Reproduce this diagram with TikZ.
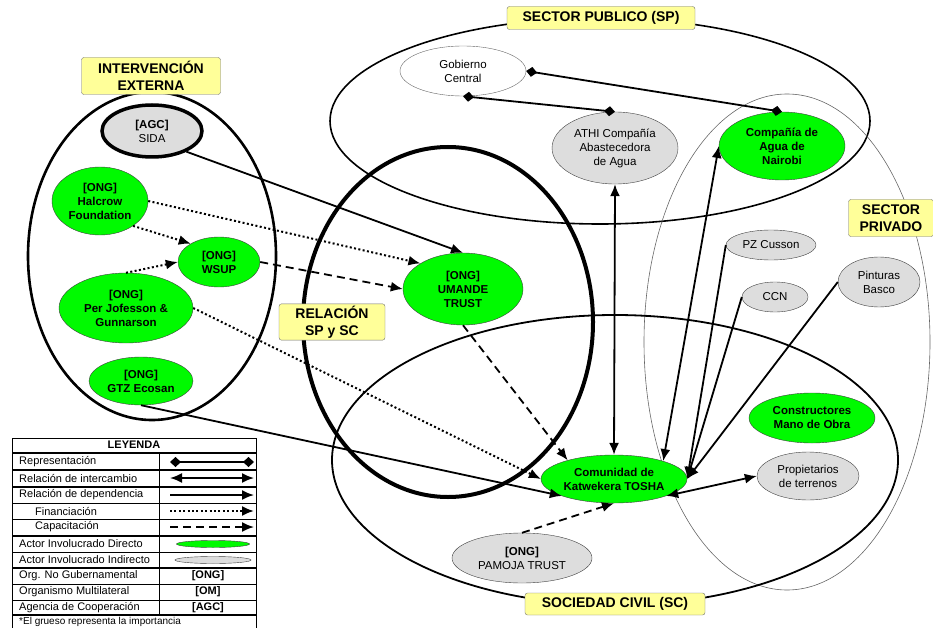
\documentclass[tikz,border=0pt]{standalone}
\usepackage{fontspec}
\setmainfont{Liberation Sans}
\usepackage{tikz}
\usetikzlibrary{arrows.meta,shapes.geometric}

\definecolor{verde}{RGB}{0,250,0}
\definecolor{gris}{RGB}{221,221,221}
\definecolor{amarillo}{RGB}{255,255,153}
\newcommand{\fnodo}{\fontsize{11.5}{14}\selectfont}
\newcommand{\fetiq}{\fontsize{14}{17}\selectfont\bfseries}
\newcommand{\fley}{\fontsize{11}{12}\selectfont}

\begin{document}
\begin{tikzpicture}[x=1pt,y=-1pt,
  punta/.tip={Latex[length=12pt,width=10pt]},
  rombo/.tip={Diamond[length=11pt,width=10pt]},
  directo/.style={ellipse,draw=black!75,fill=verde,inner sep=0pt,align=center,font=\fnodo\bfseries},
  indirecto/.style={ellipse,draw=black!75,fill=gris,inner sep=0pt,align=center,font=\fnodo},
  etiqueta/.style={draw=black!55,fill=amarillo,rounded corners=2.5pt,align=center,font=\fetiq,inner sep=2pt},
  rel/.style={line width=1.8pt},
  repr/.style={rel,rombo-rombo},
  inter/.style={rel,punta-punta},
  dep/.style={rel,-punta},
  fin/.style={rel,-punta,line width=2pt,dash pattern=on 2pt off 2.4pt},
  capac/.style={rel,-punta,dash pattern=on 8pt off 5pt},
  txley/.style={anchor=west,font=\fley,inner sep=0pt}]
\useasboundingbox (0,0) rectangle (933,628);

% grupos
\draw[line width=1.6pt] (600,121) ellipse [x radius=270pt, y radius=103pt];
\draw[line width=0.6pt,black!60] (787,342) ellipse [x radius=143pt, y radius=248pt];
\draw[line width=1.8pt] (615,460) ellipse [x radius=283pt, y radius=145pt];
\draw[line width=2.6pt] (152,256) ellipse [x radius=124pt, y radius=164pt];
\draw[line width=4pt] (448,322) ellipse [x radius=145pt, y radius=175pt];

% actores
\node[indirecto,minimum width=100,minimum height=52,line width=3.5pt,draw=black] (sida) at (152,131) {\textbf{[AGC]}\\SIDA};
\node[directo,minimum width=96,minimum height=68] (halcrow) at (100,201) {[ONG]\\Halcrow\\Foundation};
\node[directo,minimum width=82,minimum height=50] (wsup) at (219,262) {[ONG]\\WSUP};
\node[directo,minimum width=134,minimum height=70] (per) at (126,308) {[ONG]\\Per Jofesson \&\\Gunnarson};
\node[directo,minimum width=104,minimum height=48] (gtz) at (141,381) {[ONG]\\GTZ Ecosan};
\node[directo,minimum width=120,minimum height=72] (umande) at (463,289) {[ONG]\\UMANDE\\TRUST};
\node[indirecto,fill=white,draw=black!60,minimum width=126,minimum height=50] (gobierno) at (463,71) {Gobierno\\Central};
\node[indirecto,minimum width=126,minimum height=72] (athi) at (615,148) {ATHI Compañía\\Abastecedora\\de Agua};
\node[directo,minimum width=126,minimum height=68] (nairobi) at (782,146) {Compañía de\\Agua de\\Nairobi};
\node[indirecto,minimum width=90,minimum height=30] (pz) at (771,245) {PZ Cusson};
\node[indirecto,minimum width=66,minimum height=30] (ccn) at (775,297) {CCN};
\node[indirecto,minimum width=82,minimum height=50] (basco) at (879,282) {Pinturas\\Basco};
\node[directo,minimum width=126,minimum height=50] (constructores) at (812,418) {Constructores\\Mano de Obra};
\node[indirecto,minimum width=102,minimum height=48] (propietarios) at (808,476) {Propietarios\\de terrenos};
\node[directo,minimum width=146,minimum height=48] (tosha) at (614,479) {Comunidad de\\Katwekera TOSHA};
\node[indirecto,minimum width=140,minimum height=50] (pamoja) at (522,558) {\textbf{[ONG]}\\PAMOJA TRUST};

% etiquetas
\node[etiqueta,minimum width=188,minimum height=23] (lsp) at (601,18) {SECTOR PUBLICO (SP)};
\node[etiqueta,minimum width=139,minimum height=37] (lie) at (151,76) {INTERVENCIÓN\\EXTERNA};
\node[etiqueta,minimum width=106,minimum height=36] (lrel) at (332,322) {RELACIÓN\\SP y SC};
\node[etiqueta,minimum width=85,minimum height=37] (lpriv) at (891,218) {SECTOR\\PRIVADO};
\node[etiqueta,minimum width=180,minimum height=22] (lsc) at (615,604) {SOCIEDAD CIVIL (SC)};

% relaciones
\draw[repr] (gobierno.south) -- (athi.north);
\draw[repr] (gobierno.east) -- (nairobi.north);
\draw[inter] (athi.south) -- (tosha.north);
\draw[inter] (nairobi.west) -- (tosha.20);
\draw[dep] (pz.west) -- (tosha.east);
\draw[dep] (ccn.west) -- (tosha.east);
\draw[dep] (basco.west) -- (tosha.east);
\draw[inter] (tosha.-18) -- (propietarios.west);
\draw[capac] (pamoja.north) -- (tosha.south);
\draw[capac] (umande.south) -- (tosha.158);
\draw[fin] (per.east) -- (tosha.west);
\draw[dep] (gtz.south) -- (tosha.198);
\draw[dep] (sida.-31) -- (umande.north);
\draw[fin] (halcrow.east) -- (umande.149);
\draw[fin] (halcrow.-37) -- (wsup.147);
\draw[fin] (per.north) -- (wsup.west);
\draw[capac] (wsup.east) -- (umande.west);

% leyenda
\draw[line width=1pt,fill=white] (12,438) rectangle (256,640);
\foreach \y in {503,519,552,584,600} \draw[line width=0.6pt] (12,\y) -- (256,\y);
\foreach \y in {453,470,487,536,568,615} \draw[line width=1.2pt] (12,\y) -- (256,\y);
\draw[line width=0.8pt] (159,453) -- (159,615);
\node[font=\fley\bfseries,inner sep=0pt] (lley) at (134,445) {LEYENDA};
\node[txley] (t1) at (19,462) {Representación};
\node[txley] (t2) at (19,478) {Relación de intercambio};
\node[txley] (t3) at (19,495) {Relación de dependencia};
\node[txley] (t4) at (35,511) {Financiación};
\node[txley] (t5) at (35,527) {Capacitación};
\node[txley] (t6) at (19,544) {Actor Involucrado Directo};
\node[txley] (t7) at (19,560) {Actor Involucrado Indirecto};
\node[txley] (t8) at (19,576) {Org. No Gubernamental};
\node[txley] (t9) at (19,592) {Organismo Multilateral};
\node[txley] (t10) at (19,608) {Agencia de Cooperación};
\node[txley,font=\fontsize{10}{11}\selectfont] (t11) at (19,621.5) {*El grueso representa la importancia};
\coordinate (s1a) at (170,462); \coordinate (s1b) at (254,462);
\coordinate (s2a) at (170,478); \coordinate (s2b) at (254,478);
\coordinate (s3a) at (170,495); \coordinate (s3b) at (254,495);
\coordinate (s4a) at (170,511); \coordinate (s4b) at (254,511);
\coordinate (s5a) at (170,527); \coordinate (s5b) at (254,527);
\draw[repr] (s1a) -- (s1b);
\draw[inter] (s2a) -- (s2b);
\draw[dep] (s3a) -- (s3b);
\draw[fin] (s4a) -- (s4b);
\draw[capac] (s5a) -- (s5b);
\node[directo,minimum width=73,minimum height=7] (sverde) at (213,544) {};
\node[indirecto,minimum width=76,minimum height=7] (sgris) at (213,560) {};
\node[font=\fley\bfseries,inner sep=0pt] (s8) at (208,576) {[ONG]};
\node[font=\fley\bfseries,inner sep=0pt] (s9) at (208,592) {[OM]};
\node[font=\fley\bfseries,inner sep=0pt] (s10) at (208,608) {[AGC]};
\end{tikzpicture}
\end{document}
